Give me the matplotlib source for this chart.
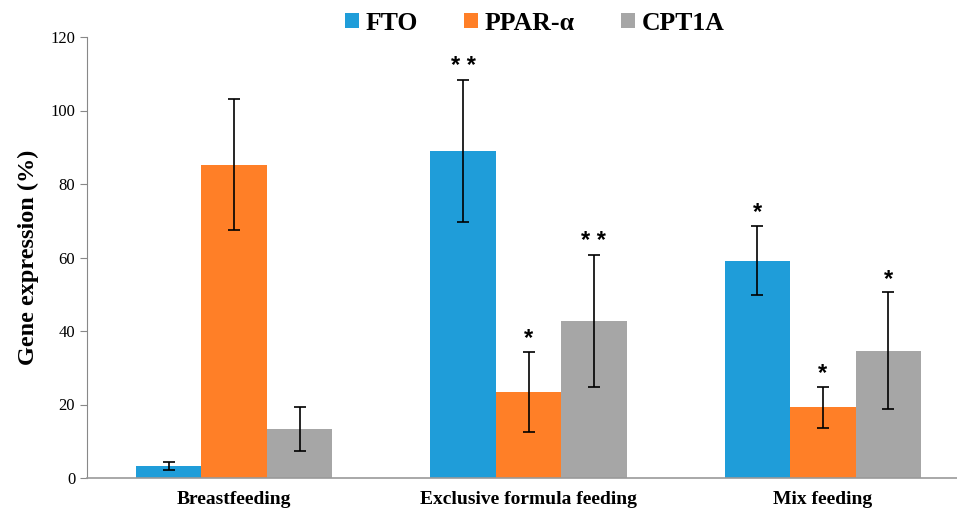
import matplotlib
matplotlib.use('Agg')
import matplotlib.pyplot as plt
import numpy as np

groups = ['Breastfeeding', 'Exclusive formula feeding', 'Mix feeding']
series = ['FTO', 'PPAR-\u03b1', 'CPT1A']
fto = [3.3, 89.0, 59.1]
ppar = [85.2, 23.4, 19.2]
cpt1a = [13.3, 42.7, 34.6]
fto_err = [1.1, 19.3, 9.4]
ppar_err = [17.8, 10.9, 5.6]
cpt1a_err = [6.0, 18.0, 15.9]
fto_sig = ['', '**', '*']
ppar_sig = ['', '*', '*']
cpt1a_sig = ['', '**', '*']

colors = ['#1F9DD9', '#FF7F27', '#A6A6A6']

plt.rcParams['font.family'] = ['Liberation Serif', 'DejaVu Serif']

fig = plt.figure(figsize=(9.57, 5.15), dpi=100)
ax = fig.add_axes([87 / 957, 37 / 515, 883 / 957, 441 / 515])

x = np.arange(len(groups)) + 0.5
w = 0.222
values = [fto, ppar, cpt1a]
errs = [fto_err, ppar_err, cpt1a_err]
sigs = [fto_sig, ppar_sig, cpt1a_sig]

for i, (vals, err, sig) in enumerate(zip(values, errs, sigs)):
  pos = x + (i - 1) * w
  ax.bar(pos, vals, w, color=colors[i], label=series[i], zorder=2)
  ax.errorbar(pos, vals, yerr=err, fmt='none', ecolor='black', elinewidth=1.2,
              capsize=4, capthick=1.2, zorder=3)
  for p, v, e, s in zip(pos, vals, err, sig):
    if s:
      ax.text(p, v + e + 0.5, ' '.join(s), ha='center', va='bottom',
              fontsize=17, fontweight='bold', family='Liberation Sans')

ax.set_xlim(0, 3)
ax.set_ylim(0, 120)
ax.set_yticks(np.arange(0, 121, 20))
ax.set_xticks(x)
ax.set_xticklabels(groups, fontsize=14, fontweight='bold')
ax.tick_params(axis='x', length=0, pad=9)
ax.tick_params(axis='y', labelsize=12, direction='out', length=5, color='#888888')
for s in ['top', 'right']:
  ax.spines[s].set_visible(False)
ax.spines['left'].set_color('#888888')
ax.spines['bottom'].set_color('#999999')
ax.spines['bottom'].set_linewidth(1.2)

ax.set_ylabel('Gene expression (%)', fontsize=17.5, fontweight='bold', labelpad=8)

ax.legend(loc='upper center', bbox_to_anchor=(0.5 + 6 / 883, 1.11), ncols=3,
          frameon=False, handlelength=0.55, handleheight=0.55, handletextpad=0.25,
          columnspacing=1.8, prop={'size': 18.5, 'weight': 'bold'})

fig.savefig('out.png', dpi=100)
